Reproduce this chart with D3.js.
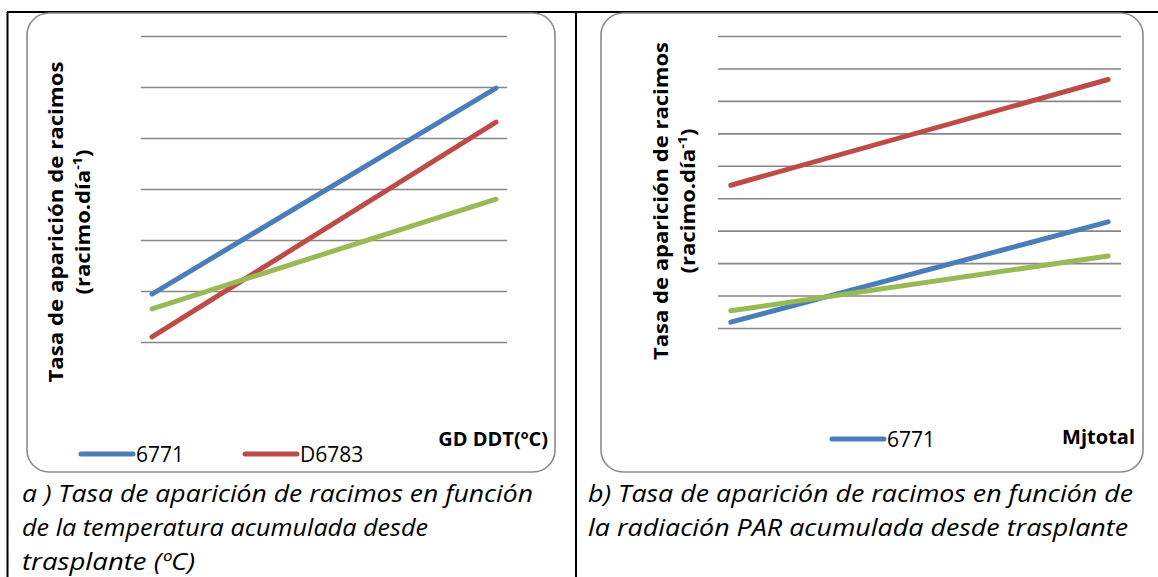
<!DOCTYPE html>
<html>
<head>
<meta charset="utf-8">
<script src="https://cdn.jsdelivr.net/npm/d3@7"></script>
<style>
  body { margin: 0; background: #fff; }
  svg { display: block; }
  text { font-family: "Open Sans", "DejaVu Sans", sans-serif; fill: #000; }
</style>
</head>
<body>
<div id="chart"></div>
<script>
// data (no tick labels are shown)
var pointsA = ["inicio", "fin"];
var gridA = [0, 1, 2, 3, 4, 5, 6];
var a6771 = [0.94, 4.98];
var aD6783 = [0.10, 4.31];
var aTercera = [0.65, 2.80];

var pointsB = ["inicio", "fin"];
var gridB = [0, 1, 2, 3, 4, 5, 6, 7, 8, 9];
var b6771 = [0.18, 3.27];
var bD6783 = [4.40, 7.66];
var bTercera = [0.53, 2.22];

var colours = { c6771: "#4a7ebb", cD6783: "#be4b48", cTercera: "#98b954" };

var W = 1158, H = 577;
var svg = d3.select("#chart").append("svg")
    .attr("width", W).attr("height", H);

// table borders
var tb = svg.append("g").attr("stroke", "#000").attr("stroke-width", 2);
tb.append("line").attr("x1", 7).attr("x2", W).attr("y1", 12).attr("y2", 12);
tb.append("line").attr("x1", 7.5).attr("x2", 7.5).attr("y1", 12).attr("y2", H);
tb.append("line").attr("x1", 576).attr("x2", 576).attr("y1", 12).attr("y2", H);

function drawPanel(p) {
    var g = svg.append("g");

    // rounded chart frame
    g.append("rect")
        .attr("x", p.frame[0]).attr("y", p.frame[1])
        .attr("width", p.frame[2]).attr("height", p.frame[3])
        .attr("rx", 22).attr("ry", 22)
        .attr("fill", "#fff")
        .attr("stroke", "#8a8a8a").attr("stroke-width", 1.6);

    var x = d3.scalePoint().domain(p.cats)
        .range([p.left, p.right]).padding(p.pad);
    var y = d3.scaleLinear().domain(d3.extent(p.grid))
        .range([p.bottom, p.top]);

    // gridlines via axis
    var ax = d3.axisLeft(y).tickValues(p.grid)
        .tickSize(-(p.right - p.left)).tickFormat("");
    var ga = g.append("g")
        .attr("transform", "translate(" + p.left + ",0)")
        .call(ax);
    ga.select(".domain").remove();
    ga.selectAll(".tick line").attr("stroke", "#868686").attr("stroke-width", 1.6);

    var line = d3.line()
        .x(function(v, i) { return x(p.cats[i]); })
        .y(function(v) { return y(v); });

    p.series.forEach(function(s) {
        g.append("path")
            .datum(s.values)
            .attr("d", line)
            .attr("fill", "none")
            .attr("stroke", s.colour)
            .attr("stroke-width", 5)
            .attr("stroke-linecap", "round");
    });

    // y title, two lines rotated
    var yt = g.append("g")
        .attr("transform", "translate(" + p.ytx + "," + p.yty + ") rotate(-90)");
    yt.append("text")
        .attr("text-anchor", "middle")
        .attr("font-weight", "bold")
        .attr("font-size", 20)
        .attr("textLength", p.ytLen).attr("lengthAdjust", "spacingAndGlyphs")
        .text("Tasa de aparición de racimos");
    var t2 = yt.append("text")
        .attr("y", 27)
        .attr("text-anchor", "middle")
        .attr("font-weight", "bold")
        .attr("font-size", 20)
        .attr("textLength", 145).attr("lengthAdjust", "spacingAndGlyphs");
    t2.append("tspan").text("(racimo.día");
    t2.append("tspan").attr("dy", -8).attr("font-size", 13).text("-1");
    t2.append("tspan").attr("dy", 8).text(")");

    // x title
    g.append("text")
        .attr("x", p.xtx).attr("y", p.xty)
        .attr("text-anchor", "end")
        .attr("font-weight", "bold")
        .attr("font-size", 20)
        .text(p.xtitle);

    // legend
    p.legend.forEach(function(l) {
        g.append("line")
            .attr("x1", l.x).attr("x2", l.x + 52)
            .attr("y1", l.y).attr("y2", l.y)
            .attr("stroke", l.colour).attr("stroke-width", 5)
            .attr("stroke-linecap", "round");
        g.append("text")
            .attr("x", l.x + 55).attr("y", l.y + 8)
            .attr("font-size", 21)
            .text(l.label);
    });

    // caption
    p.caption.forEach(function(c, i) {
        g.append("text")
            .attr("font-style", "italic")
            .attr("font-size", 23)
            .attr("x", p.capx).attr("y", 502 + i * 34)
            .attr("textLength", c[1]).attr("lengthAdjust", "spacingAndGlyphs")
            .text(c[0]);
    });
}

drawPanel({
    frame: [27, 13, 528, 459],
    left: 141, right: 507, top: 36, bottom: 342, pad: 0.032,
    cats: pointsA, grid: gridA,
    series: [
        { values: a6771, colour: colours.c6771 },
        { values: aD6783, colour: colours.cD6783 },
        { values: aTercera, colour: colours.cTercera }
    ],
    ytx: 63, yty: 222, ytLen: 321,
    xtitle: "GD DDT(ºC)", xtx: 548, xty: 446,
    legend: [
        { x: 81, y: 454, label: "6771", colour: colours.c6771 },
        { x: 245, y: 454, label: "D6783", colour: colours.cD6783 }
    ],
    capx: 22,
    caption: [["a ) Tasa de aparición de racimos en función", 511],
              ["de la temperatura acumulada desde", 406],
              ["trasplante (ºC)", 173]]
});

drawPanel({
    frame: [601, 13, 542, 459],
    left: 718, right: 1121, top: 36, bottom: 328, pad: 0.034,
    cats: pointsB, grid: gridB,
    series: [
        { values: b6771, colour: colours.c6771 },
        { values: bD6783, colour: colours.cD6783 },
        { values: bTercera, colour: colours.cTercera }
    ],
    ytx: 668, yty: 201, ytLen: 318,
    xtitle: "Mjtotal", xtx: 1135, xty: 444,
    legend: [
        { x: 832, y: 439, label: "6771", colour: colours.c6771 }
    ],
    capx: 588,
    caption: [["b) Tasa de aparición de racimos en función de", 545],
              ["la radiación PAR acumulada desde trasplante", 540]]
});
</script>
</body>
</html>
